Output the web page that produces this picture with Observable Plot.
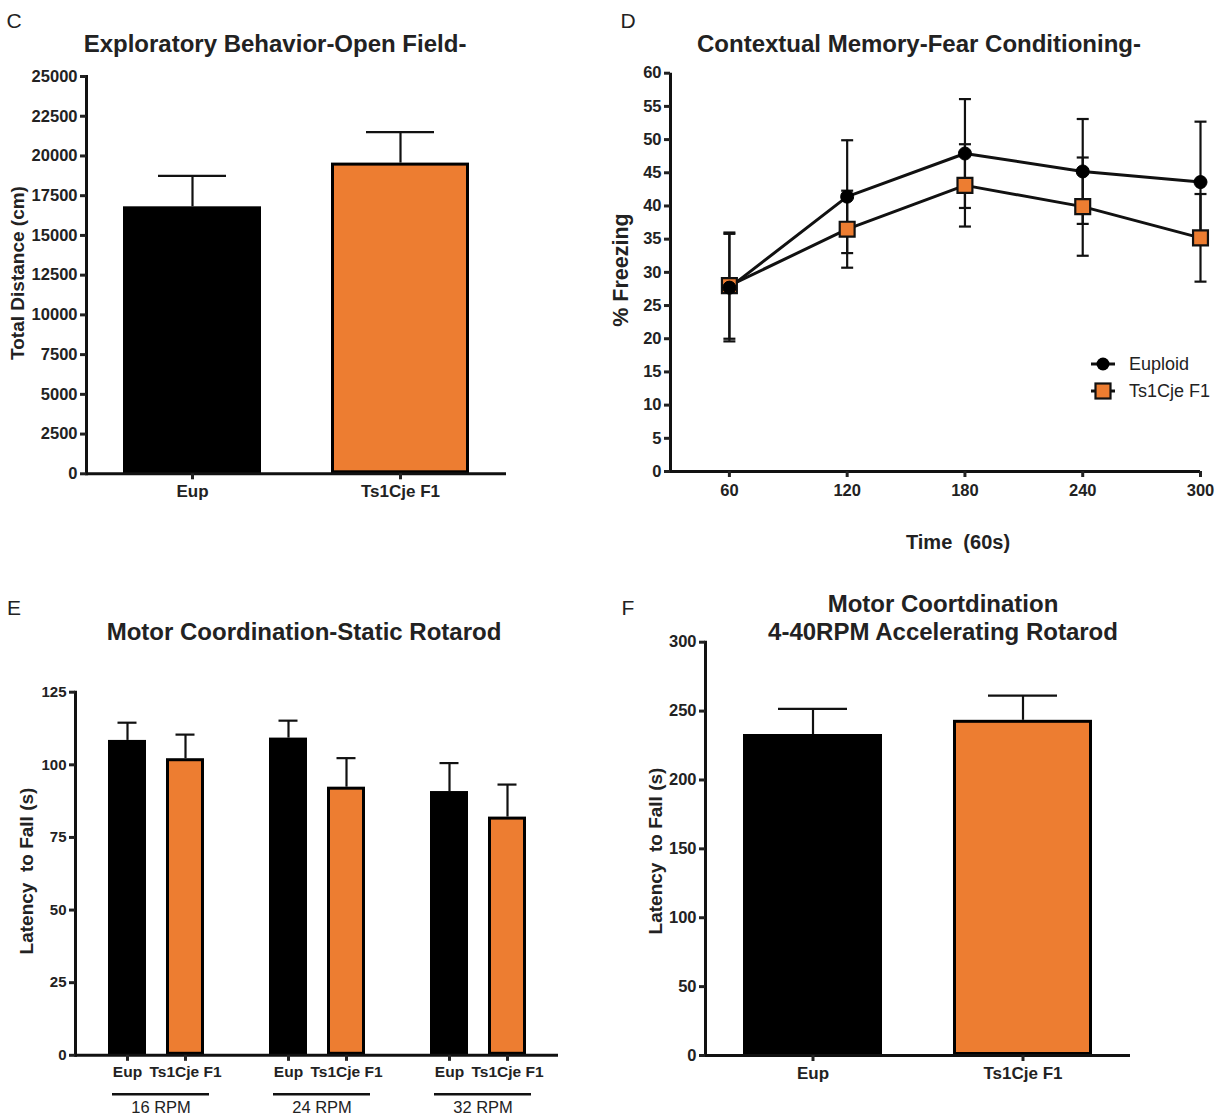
<!DOCTYPE html>
<html><head><meta charset="utf-8">
<script src="https://cdn.jsdelivr.net/npm/d3@7"></script>
<script src="https://cdn.jsdelivr.net/npm/@observablehq/plot@0.6"></script>
<style>
body{margin:0;background:#fff;font-family:"Liberation Sans",Arial,sans-serif;color:#222;}
#root{position:relative;width:1225px;height:1116px;overflow:hidden;background:#fff;}
.panel{position:absolute;}
.t{position:absolute;transform:translate(-50%,-50%);white-space:pre;line-height:1;}
.title{font-weight:bold;font-size:24px;}
.letter{font-size:21px;}
.ylab{font-weight:bold;font-size:19px;transform:translate(-50%,-50%) rotate(-90deg);}
.ylabD{font-weight:bold;font-size:21.5px;transform:translate(-50%,-50%) rotate(-90deg);}
.xlab{font-weight:bold;font-size:20px;}
.leg{position:absolute;display:flex;align-items:center;font-size:18px;line-height:1;}
.leg svg{margin-right:13px;}
</style></head><body><div id="root"></div>
<script>
// ---------- data ----------
const genotypes = ["Eup", "Ts1Cje F1"];
const orange = "#ED7D31";

// C: Exploratory behavior - open field
const openFieldMean = [16800, 19550];
const openFieldSEM = [1950, 1950];
const openFieldTicks = [0, 2500, 5000, 7500, 10000, 12500, 15000, 17500, 20000, 22500, 25000];

// D: Contextual memory - fear conditioning
const timePoints = [60, 120, 180, 240, 300];
const euploidFreezing = [27.7, 41.4, 47.9, 45.2, 43.6];
const euploidSEM = [8.1, 8.5, 8.2, 7.9, 9.1];
const ts1cjeFreezing = [28.0, 36.5, 43.1, 39.9, 35.2];
const ts1cjeSEM = [8.0, 5.8, 6.2, 7.4, 6.6];
const freezingTicks = [0, 5, 10, 15, 20, 25, 30, 35, 40, 45, 50, 55, 60];
const seriesNames = ["Euploid", "Ts1Cje F1"];

// E: Static rotarod
const rpmGroups = [16, 24, 32];
const staticEup = [108.4, 109.2, 90.8];
const staticEupSEM = [6.1, 6.0, 9.8];
const staticTs = [102.1, 92.3, 82.0];
const staticTsSEM = [8.3, 10.0, 11.2];
const staticTicks = [0, 25, 50, 75, 100, 125];

// F: Accelerating rotarod
const accelMean = [233, 243.3];
const accelSEM = [18.6, 17.9];
const accelTicks = [0, 50, 100, 150, 200, 250, 300];

// ---------- helpers ----------
const root = document.getElementById("root");
const FONT = '"Liberation Sans", Arial, sans-serif';
const plain = d3.format("d");
function place(node, left, top) {
  const d = document.createElement("div");
  d.className = "panel";
  d.style.left = left + "px"; d.style.top = top + "px";
  d.appendChild(node); root.appendChild(d);
}
function text(str, x, y, cls) {
  const d = document.createElement("div");
  d.className = "t " + cls;
  d.textContent = str;
  d.style.left = x + "px"; d.style.top = y + "px";
  root.appendChild(d);
}
const colorScale = {domain: genotypes, range: ["#000000", orange]};
const capSymbol = {draw(ctx, size) { const w = Math.sqrt(size / Math.PI); ctx.moveTo(-w, 0); ctx.lineTo(w, 0); }};

function barPanel({data, yDomain, yTicks, marginLeft, marginRight, marginTop, marginBottom, width, height}) {
  return Plot.plot({
    width, height, marginLeft, marginRight, marginTop, marginBottom,
    style: {fontFamily: FONT, color: "#222", background: "transparent", fontSize: "16px"},
    x: {domain: genotypes, paddingInner: 0.337, paddingOuter: 0.178},
    y: {domain: yDomain},
    color: colorScale,
    marks: [
      Plot.ruleX(data, {x: "geno", y1: "mean", y2: d => d.mean + d.err, stroke: "#111", strokeWidth: 2.2}),
      Plot.tickY(data, {x: "geno", y: d => d.mean + d.err, stroke: "#111", strokeWidth: 2.2, insetLeft: 35, insetRight: 35}),
      Plot.barY(data, {x: "geno", y: "mean", fill: "geno", stroke: "#000", strokeWidth: 3, inset: 1.5}),
      Plot.frame({anchor: "left", strokeWidth: 3, stroke: "#111"}),
      Plot.ruleY([0], {strokeWidth: 3, stroke: "#111"}),
      Plot.axisY({ticks: yTicks, tickFormat: plain, tickSize: 6, strokeWidth: 3, tickPadding: 3, fontSize: 16.5, fontWeight: "bold", label: null}),
      Plot.axisX({tickSize: 6, strokeWidth: 3, tickPadding: 5, fontSize: 17, fontWeight: "bold", label: null})
    ]
  });
}

// ---------- Panel C ----------
const cData = genotypes.map((g, i) => ({geno: g, mean: openFieldMean[i], err: openFieldSEM[i]}));
place(barPanel({data: cData, yDomain: [0, 25000], yTicks: openFieldTicks,
  width: 520, height: 460, marginLeft: 86, marginRight: 14, marginTop: 16, marginBottom: 46.7}), 0, 60);
text("C", 14, 20, "letter");
text("Exploratory Behavior-Open Field-", 275, 44, "title");
text("Total Distance (cm)", 17, 273, "ylab");

// ---------- Panel D ----------
const dEup = timePoints.map((t, i) => ({t, v: euploidFreezing[i], e: euploidSEM[i]}));
const dTs = timePoints.map((t, i) => ({t, v: ts1cjeFreezing[i], e: ts1cjeSEM[i]}));
function errMarks(data) {
  return [
    Plot.ruleX(data, {x: "t", y1: d => d.v - d.e, y2: d => d.v + d.e, stroke: "#111", strokeWidth: 2.2}),
    Plot.dot(data, {x: "t", y: d => d.v + d.e, symbol: capSymbol, r: 6, fill: "none", stroke: "#111", strokeWidth: 2.2}),
    Plot.dot(data, {x: "t", y: d => d.v - d.e, symbol: capSymbol, r: 6, fill: "none", stroke: "#111", strokeWidth: 2.2})
  ];
}
const dPlot = Plot.plot({
  width: 625, height: 460, marginLeft: 70, marginRight: 25, marginTop: 17.7, marginBottom: 44,
  style: {fontFamily: FONT, color: "#222", background: "transparent", fontSize: "16px"},
  x: {domain: [30, 300]},
  y: {domain: [0, 60]},
  marks: [
    ...errMarks(dTs),
    ...errMarks(dEup),
    Plot.line(dTs, {x: "t", y: "v", stroke: "#111", strokeWidth: 3}),
    Plot.line(dEup, {x: "t", y: "v", stroke: "#111", strokeWidth: 3}),
    Plot.dot(dTs, {x: "t", y: "v", symbol: "square", r: 8.4, fill: orange, stroke: "#111", strokeWidth: 2.2}),
    Plot.dot(dEup, {x: "t", y: "v", symbol: "circle", r: 6.5, fill: "#000", stroke: "#000", strokeWidth: 1}),
    Plot.ruleX([30], {strokeWidth: 3, stroke: "#111"}),
    Plot.ruleY([0], {strokeWidth: 3, stroke: "#111"}),
    Plot.axisY({ticks: freezingTicks, tickFormat: plain, tickSize: 6, strokeWidth: 3, tickPadding: 3, fontSize: 16.5, fontWeight: "bold", label: null}),
    Plot.axisX({ticks: timePoints, tickFormat: plain, tickSize: 6, strokeWidth: 3, tickPadding: 7, fontSize: 16.5, fontWeight: "bold", label: null})
  ]
});
place(dPlot, 600, 55);
text("D", 628, 20, "letter");
text("Contextual Memory-Fear Conditioning-", 919, 44, "title");
text("% Freezing", 622, 270, "ylabD");
text("Time  (60s)", 958, 542, "xlab");
// legend
function legendRow(name, isSquare, top) {
  const d = document.createElement("div");
  d.className = "leg";
  d.style.left = "1090px"; d.style.top = (top - 12) + "px";
  const sym = isSquare
    ? '<rect x="5.5" y="4.5" width="15" height="15" fill="' + orange + '" stroke="#111" stroke-width="2.2"/>'
    : '<circle cx="13" cy="12" r="6.5" fill="#000"/>';
  d.innerHTML = '<svg width="26" height="24"><line x1="1" x2="25" y1="12" y2="12" stroke="#111" stroke-width="3"/>' + sym + '</svg><span>' + name + '</span>';
  root.appendChild(d);
}
legendRow(seriesNames[0], false, 364);
legendRow(seriesNames[1], true, 391);

// ---------- Panel E ----------
const eData = [];
rpmGroups.forEach((r, i) => {
  eData.push({rpm: r, geno: genotypes[0], mean: staticEup[i], err: staticEupSEM[i]});
  eData.push({rpm: r, geno: genotypes[1], mean: staticTs[i], err: staticTsSEM[i]});
});
const ePlot = Plot.plot({
  width: 580, height: 466, marginLeft: 74, marginRight: 22, marginTop: 41.7, marginBottom: 61.2,
  style: {fontFamily: FONT, color: "#222", background: "transparent", fontSize: "15px"},
  fx: {domain: rpmGroups, padding: 0},
  x: {domain: genotypes, paddingInner: 0.35, paddingOuter: 0.55},
  y: {domain: [0, 125]},
  color: colorScale,
  marks: [
    Plot.ruleX(eData, {fx: "rpm", x: "geno", y1: "mean", y2: d => d.mean + d.err, stroke: "#111", strokeWidth: 2.2}),
    Plot.tickY(eData, {fx: "rpm", x: "geno", y: d => d.mean + d.err, stroke: "#111", strokeWidth: 2.2, insetLeft: 9.5, insetRight: 9.5}),
    Plot.barY(eData, {fx: "rpm", x: "geno", y: "mean", fill: "geno", stroke: "#000", strokeWidth: 3, inset: 1.5}),
    Plot.ruleY([0], {strokeWidth: 3, stroke: "#111"}),
    Plot.ruleY([0], {strokeWidth: 2.5, stroke: "#111", dy: 39, insetLeft: 37, insetRight: 27}),
    Plot.frame({anchor: "left", facet: "super", strokeWidth: 3, stroke: "#111"}),
    Plot.axisY({ticks: staticTicks, tickFormat: plain, tickSize: 6, strokeWidth: 3, tickPadding: 3, fontSize: 15, fontWeight: "bold", label: null}),
    Plot.axisX({tickSize: 6, strokeWidth: 3, tickPadding: 5, fontSize: 15.5, fontWeight: "bold", label: null}),
    Plot.axisFx({anchor: "bottom", tickSize: 0, tickPadding: 46, fontSize: 16.5, fontWeight: "normal", dx: 5, tickFormat: d => d + " RPM", label: null})
  ]
});
place(ePlot, 0, 650);
text("E", 14, 607, "letter");
text("Motor Coordination-Static Rotarod", 304, 632, "title");
text("Latency  to Fall (s)", 26, 871, "ylab");

// ---------- Panel F ----------
const fData = genotypes.map((g, i) => ({geno: g, mean: accelMean[i], err: accelSEM[i]}));
place(barPanel({data: fData, yDomain: [0, 300], yTicks: accelTicks,
  width: 520, height: 496, marginLeft: 85, marginRight: 10, marginTop: 21.7, marginBottom: 61}), 620, 620);
text("F", 628, 607, "letter");
text("Motor Coortdination", 943, 604, "title");
text("4-40RPM Accelerating Rotarod", 943, 632, "title");
text("Latency  to Fall (s)", 655, 851, "ylab");
</script></body></html>
